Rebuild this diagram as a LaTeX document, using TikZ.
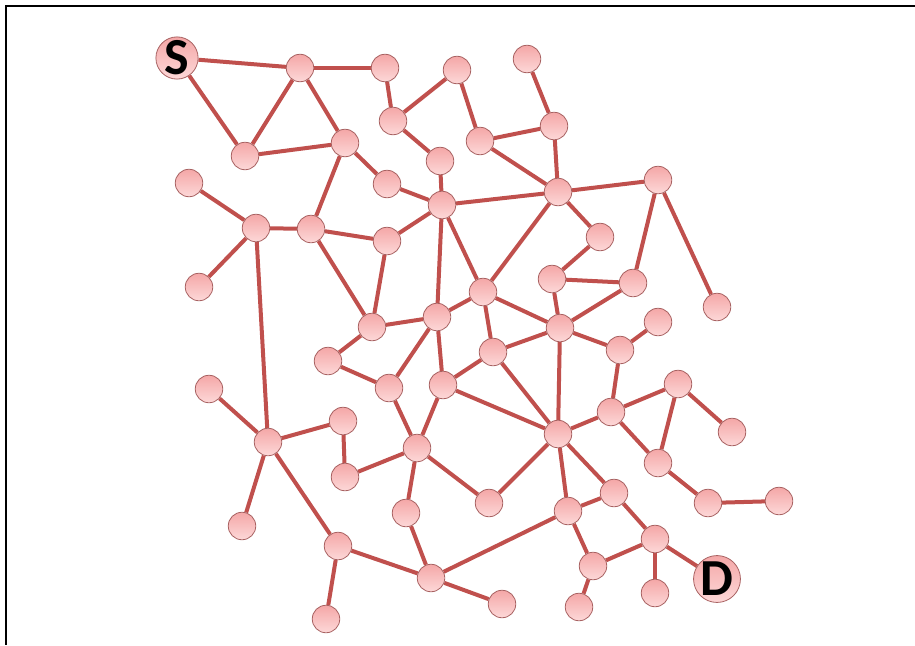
\documentclass[tikz,border=0pt]{standalone}
\usepackage{fontspec}
\newfontfamily\labelfont{Carlito}
\usetikzlibrary{backgrounds}
\definecolor{edgecol}{HTML}{C0504D}
\definecolor{nodeborder}{HTML}{A86262}
\definecolor{nodetop}{HTML}{F4A7A7}
\definecolor{nodebot}{HTML}{FDD8D8}
\tikzset{
  vtx/.style={circle, minimum size=27.5pt, inner sep=0pt, draw=nodeborder, line width=0.8pt, top color=nodetop, bottom color=nodebot},
  endvtx/.style={vtx, minimum size=36pt, font=\labelfont\bfseries\fontsize{52}{52}\selectfont, text=black},
  link/.style={draw=edgecol, line width=4pt},
  frameline/.style={draw=black, line width=1.6pt}
}
\begin{document}
\begin{tikzpicture}[x=1pt,y=-1pt]
\useasboundingbox (0,0) rectangle (915,645);
\draw[frameline] (915,6) coordinate (fr1) -- (6,6) coordinate (fr0) -- (6,645) coordinate (fr2);
% nodes
\node[endvtx] (S) at (177,58) {S};
\node[endvtx] (D) at (717,579) {D};
\node[vtx] (n1) at (300,68) {};
\node[vtx] (n2) at (385,68) {};
\node[vtx] (n3) at (457,70) {};
\node[vtx] (n4) at (527,59) {};
\node[vtx] (n5) at (393,121) {};
\node[vtx] (n6) at (245,156) {};
\node[vtx] (n7) at (345,143) {};
\node[vtx] (n8) at (480,141) {};
\node[vtx] (n9) at (554,126) {};
\node[vtx] (n10) at (440,161) {};
\node[vtx] (n11) at (189,183) {};
\node[vtx] (n12) at (387,184) {};
\node[vtx] (n13) at (442,205) {};
\node[vtx] (n14) at (558,192) {};
\node[vtx] (n15) at (658,180) {};
\node[vtx] (n16) at (256,228) {};
\node[vtx] (n17) at (311,229) {};
\node[vtx] (n18) at (387,241) {};
\node[vtx] (n19) at (600,237) {};
\node[vtx] (n20) at (199,287) {};
\node[vtx] (n21) at (552,279) {};
\node[vtx] (n22) at (633,283) {};
\node[vtx] (n23) at (483,292) {};
\node[vtx] (n24) at (717,307) {};
\node[vtx] (n25) at (372,327) {};
\node[vtx] (n26) at (437,317) {};
\node[vtx] (n27) at (560,328) {};
\node[vtx] (n28) at (658,322) {};
\node[vtx] (n29) at (328,361) {};
\node[vtx] (n30) at (493,352) {};
\node[vtx] (n31) at (620,350) {};
\node[vtx] (n32) at (389,388) {};
\node[vtx] (n33) at (443,385) {};
\node[vtx] (n34) at (678,384) {};
\node[vtx] (n35) at (209,389) {};
\node[vtx] (n36) at (611,412) {};
\node[vtx] (n37) at (343,421) {};
\node[vtx] (n38) at (268,442) {};
\node[vtx] (n39) at (558,434) {};
\node[vtx] (n40) at (732,432) {};
\node[vtx] (n41) at (417,448) {};
\node[vtx] (n42) at (658,463) {};
\node[vtx] (n43) at (345,477) {};
\node[vtx] (n44) at (489,503) {};
\node[vtx] (n45) at (614,493) {};
\node[vtx] (n46) at (406,513) {};
\node[vtx] (n47) at (708,503) {};
\node[vtx] (n48) at (779,501) {};
\node[vtx] (n49) at (568,511) {};
\node[vtx] (n50) at (242,526) {};
\node[vtx] (n51) at (338,546) {};
\node[vtx] (n52) at (655,539) {};
\node[vtx] (n53) at (593,566) {};
\node[vtx] (n54) at (431,578) {};
\node[vtx] (n55) at (502,604) {};
\node[vtx] (n56) at (579,607) {};
\node[vtx] (n57) at (655,593) {};
\node[vtx] (n58) at (326,619) {};
% edges
\begin{scope}[on background layer]
\draw[link] (S) -- (n1);
\draw[link] (S) -- (n6);
\draw[link] (n6) -- (n1);
\draw[link] (n6) -- (n7);
\draw[link] (n1) -- (n2);
\draw[link] (n1) -- (n7);
\draw[link] (n2) -- (n5);
\draw[link] (n5) -- (n3);
\draw[link] (n5) -- (n10);
\draw[link] (n10) -- (n13);
\draw[link] (n7) -- (n12);
\draw[link] (n7) -- (n17);
\draw[link] (n12) -- (n13);
\draw[link] (n3) -- (n8);
\draw[link] (n4) -- (n9);
\draw[link] (n8) -- (n9);
\draw[link] (n8) -- (n14);
\draw[link] (n9) -- (n14);
\draw[link] (n13) -- (n14);
\draw[link] (n14) -- (n15);
\draw[link] (n14) -- (n19);
\draw[link] (n14) -- (n23);
\draw[link] (n15) -- (n22);
\draw[link] (n15) -- (n24);
\draw[link] (n19) -- (n21);
\draw[link] (n21) -- (n22);
\draw[link] (n21) -- (n27);
\draw[link] (n22) -- (n27);
\draw[link] (n11) -- (n16);
\draw[link] (n16) -- (n17);
\draw[link] (n16) -- (n20);
\draw[link] (n16) -- (n38);
\draw[link] (n17) -- (n18);
\draw[link] (n17) -- (n25);
\draw[link] (n18) -- (n13);
\draw[link] (n18) -- (n25);
\draw[link] (n13) -- (n26);
\draw[link] (n13) -- (n23);
\draw[link] (n25) -- (n26);
\draw[link] (n26) -- (n23);
\draw[link] (n23) -- (n27);
\draw[link] (n23) -- (n30);
\draw[link] (n25) -- (n29);
\draw[link] (n26) -- (n32);
\draw[link] (n26) -- (n33);
\draw[link] (n30) -- (n27);
\draw[link] (n30) -- (n33);
\draw[link] (n30) -- (n39);
\draw[link] (n33) -- (n39);
\draw[link] (n27) -- (n39);
\draw[link] (n27) -- (n31);
\draw[link] (n31) -- (n28);
\draw[link] (n31) -- (n36);
\draw[link] (n29) -- (n32);
\draw[link] (n32) -- (n41);
\draw[link] (n33) -- (n41);
\draw[link] (n35) -- (n38);
\draw[link] (n38) -- (n37);
\draw[link] (n38) -- (n50);
\draw[link] (n38) -- (n51);
\draw[link] (n37) -- (n43);
\draw[link] (n43) -- (n41);
\draw[link] (n41) -- (n46);
\draw[link] (n41) -- (n44);
\draw[link] (n44) -- (n39);
\draw[link] (n39) -- (n36);
\draw[link] (n39) -- (n49);
\draw[link] (n39) -- (n45);
\draw[link] (n36) -- (n34);
\draw[link] (n36) -- (n42);
\draw[link] (n34) -- (n42);
\draw[link] (n34) -- (n40);
\draw[link] (n42) -- (n47);
\draw[link] (n47) -- (n48);
\draw[link] (n45) -- (n49);
\draw[link] (n45) -- (n52);
\draw[link] (n49) -- (n53);
\draw[link] (n53) -- (n52);
\draw[link] (n52) -- (D);
\draw[link] (n52) -- (n57);
\draw[link] (n53) -- (n56);
\draw[link] (n51) -- (n54);
\draw[link] (n51) -- (n58);
\draw[link] (n46) -- (n54);
\draw[link] (n54) -- (n49);
\draw[link] (n54) -- (n55);
\end{scope}
\end{tikzpicture}
\end{document}
